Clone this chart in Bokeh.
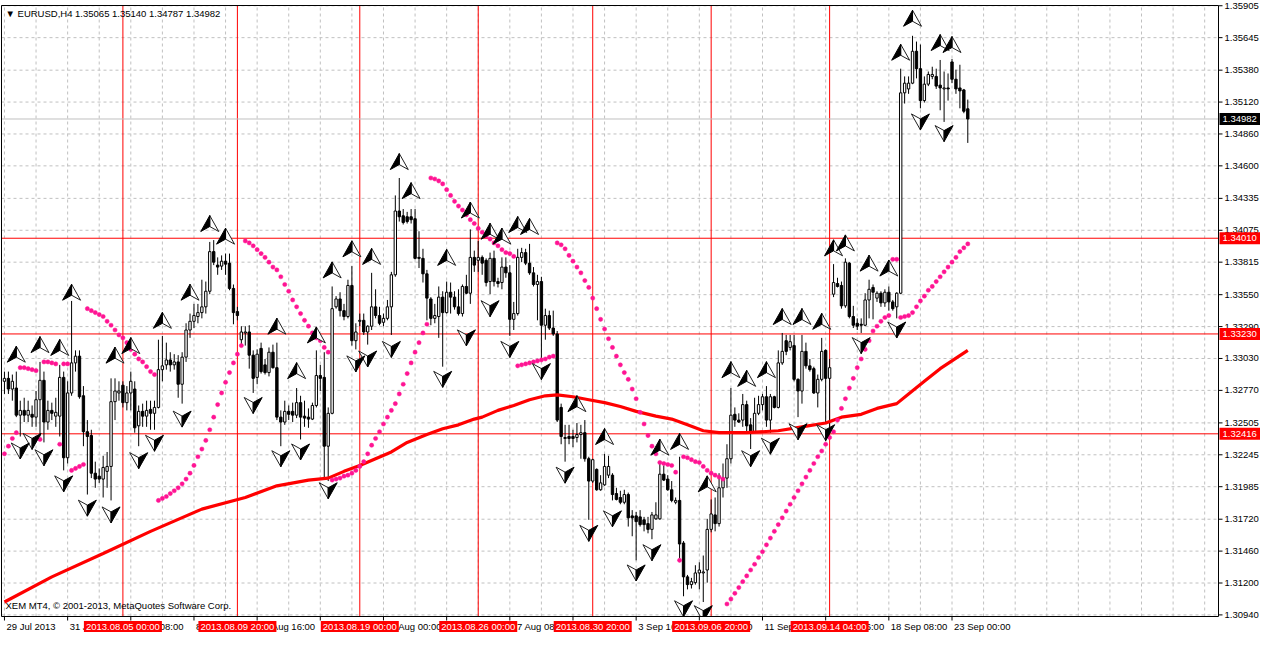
from bokeh.plotting import figure
from bokeh.models import Range1d, Label, ColumnDataSource
from bokeh.embed import file_html
from bokeh.resources import INLINE
from bokeh.core.properties import value

# ---------------- data (EURUSD H4, bar index 0 = 29 Jul 2013 00:00) ----------------
opens = [
    1.32844,1.32868,1.32781,1.32789,1.32568,1.32607,1.32568,1.32575,1.32552,1.32694,
    1.32852,1.32512,1.32607,1.32560,1.32560,1.32876,1.32221,1.32749,1.32994,1.33049,
    1.32726,1.32433,1.32402,1.32095,1.32071,1.32047,1.32110,1.32150,1.32678,1.32749,
    1.32812,1.32670,1.32749,1.32781,1.32481,1.32599,1.32560,1.32615,1.32583,1.32631,
    1.32939,1.32978,1.33018,1.32978,1.33002,1.32820,1.33041,1.33262,1.33333,1.33372,
    1.33404,1.33451,1.33578,1.33901,1.33791,1.33783,1.33823,1.33807,1.33601,1.33412,
    1.33183,1.33238,1.33246,1.33057,1.32876,1.33112,1.32978,1.32915,1.33081,1.32955,
    1.32552,1.32512,1.32599,1.32599,1.32568,1.32670,1.32560,1.32552,1.32536,1.32647,
    1.32891,1.32876,1.32315,1.32583,1.33451,1.33515,1.33420,1.33372,1.33625,1.33175,
    1.33333,1.33341,1.33246,1.33293,1.33451,1.33380,1.33325,1.33357,1.33451,1.33712,
    1.34232,1.34193,1.34185,1.34185,1.34169,1.33854,1.33846,1.33720,1.33515,1.33357,
    1.33372,1.33530,1.33404,1.33570,1.33530,1.33451,1.33396,1.33617,1.33562,1.33854,
    1.33830,1.33854,1.33830,1.33657,1.33846,1.33657,1.33649,1.33775,1.33728,1.33349,
    1.33396,1.33854,1.33893,1.33807,1.33728,1.33633,1.33657,1.33301,1.33380,1.33278,
    1.33230,1.32631,1.32378,1.32394,1.32394,1.32386,1.32410,1.32425,1.32213,1.32031,
    1.32126,1.31960,1.32000,1.32079,1.32079,1.31929,1.31897,1.31858,1.31921,1.31747,
    1.31747,1.31739,1.31715,1.31684,1.31637,1.31723,1.31723,1.32087,1.32047,1.31960,
    1.31858,1.31873,1.31526,1.31250,1.31187,1.31203,1.31282,1.31282,1.31306,1.31637,
    1.31755,1.31684,1.31976,1.32055,1.32213,1.32575,1.32528,1.32528,1.32654,1.32489,
    1.32433,1.32583,1.32654,1.32718,1.32528,1.32718,1.32631,1.32994,1.33175,1.33120,
    1.33135,1.32860,1.32765,1.33088,1.32970,1.32947,1.32749,1.32860,1.33096,1.32868,
    1.33554,1.33641,1.33625,1.33459,1.33807,1.33372,1.33317,1.33309,1.33301,1.33507,
    1.33609,1.33522,1.33562,1.33483,1.33570,1.33491,1.33451,1.33562,1.35195,1.35227,
    1.35274,1.35534,1.35392,1.35132,1.35266,1.35329,1.35329,1.35258,1.35227,1.35235,
    1.35447,1.35306,1.35235,1.35219,1.35065]
highs = [
    1.32923,1.32923,1.32899,1.32923,1.32686,1.32710,1.32686,1.32647,1.32765,1.33002,
    1.32923,1.32686,1.32670,1.32710,1.32978,1.32923,1.32844,1.33499,1.33096,1.33096,
    1.32805,1.32528,1.32449,1.32189,1.32134,1.32237,1.32268,1.32868,1.32868,1.32844,
    1.32844,1.32805,1.32923,1.32844,1.32647,1.32662,1.32686,1.32686,1.32686,1.33183,
    1.33214,1.33159,1.33081,1.33065,1.33057,1.33081,1.33317,1.33396,1.33475,1.33475,
    1.33672,1.33657,1.33980,1.33995,1.33854,1.33870,1.33885,1.33885,1.33633,1.33451,
    1.33293,1.33293,1.33301,1.33096,1.33104,1.33159,1.33026,1.33120,1.33143,1.33159,
    1.32607,1.32686,1.32647,1.32670,1.32789,1.32726,1.32686,1.32623,1.32670,1.33096,
    1.32978,1.33081,1.32631,1.33617,1.33538,1.33570,1.33475,1.33672,1.33783,1.33317,
    1.33396,1.33396,1.33301,1.33728,1.33594,1.33451,1.33396,1.33507,1.33736,1.34359,
    1.34501,1.34248,1.34225,1.34248,1.34248,1.34067,1.33924,1.33752,1.33530,1.33475,
    1.33617,1.33578,1.33657,1.33649,1.33578,1.33594,1.33633,1.33712,1.34082,1.33909,
    1.33988,1.33870,1.33846,1.33893,1.33909,1.33688,1.33854,1.33854,1.33791,1.33491,
    1.33924,1.33932,1.33924,1.33964,1.33775,1.33712,1.33696,1.33436,1.33420,1.33420,
    1.33254,1.32662,1.32489,1.32489,1.32449,1.32504,1.32489,1.32528,1.32229,1.32213,
    1.32134,1.32079,1.32252,1.32237,1.32095,1.31976,1.31952,1.31960,1.31937,1.31794,
    1.31779,1.31794,1.31739,1.31739,1.31779,1.31858,1.32189,1.32158,1.32079,1.32031,
    1.31897,1.32229,1.31542,1.31266,1.31242,1.31345,1.31369,1.31424,1.31723,1.31881,
    1.31897,1.32095,1.32174,1.32331,1.32789,1.32631,1.32583,1.32741,1.32686,1.32544,
    1.32710,1.32726,1.32741,1.32805,1.32741,1.32726,1.33096,1.33238,1.33222,1.33222,
    1.33222,1.32868,1.33222,1.33159,1.33026,1.32963,1.32899,1.33198,1.33104,1.33026,
    1.33799,1.33688,1.33657,1.33846,1.33815,1.33459,1.33357,1.33357,1.33562,1.33672,
    1.33633,1.33578,1.33578,1.33594,1.33617,1.33507,1.33570,1.35392,1.35329,1.35329,
    1.35660,1.35613,1.35589,1.35329,1.35369,1.35408,1.35392,1.35463,1.35369,1.35353,
    1.35471,1.35384,1.35424,1.35227,1.35140]
lows = [
    1.32741,1.32741,1.32686,1.32552,1.32394,1.32512,1.32512,1.32473,1.32473,1.32394,
    1.32346,1.32449,1.32528,1.32473,1.32394,1.32118,1.32174,1.32726,1.32923,1.32702,
    1.32315,1.31921,1.32055,1.31976,1.32016,1.31897,1.31976,1.31873,1.32528,1.32686,
    1.32631,1.32607,1.32607,1.32425,1.32315,1.32473,1.32473,1.32449,1.32449,1.32623,
    1.32844,1.32939,1.32923,1.32939,1.32710,1.32662,1.33002,1.33198,1.33278,1.33317,
    1.33357,1.33396,1.33554,1.33791,1.33712,1.33752,1.33712,1.33586,1.33309,1.33341,
    1.33135,1.33135,1.32947,1.32749,1.32820,1.32907,1.32899,1.32884,1.32947,1.32528,
    1.32315,1.32489,1.32528,1.32512,1.32544,1.32370,1.32473,1.32465,1.32528,1.32631,
    1.32765,1.32055,1.32031,1.32575,1.33436,1.33372,1.33341,1.33357,1.33135,1.33104,
    1.33293,1.33222,1.33143,1.33262,1.33357,1.33301,1.33293,1.33341,1.33222,1.33696,
    1.34146,1.34122,1.34130,1.34130,1.33838,1.33767,1.33649,1.33341,1.33301,1.33317,
    1.33198,1.32963,1.33396,1.33396,1.33428,1.33380,1.33372,1.33554,1.33475,1.33736,
    1.33736,1.33712,1.33617,1.33554,1.33617,1.33609,1.33594,1.33688,1.33214,1.33262,
    1.33380,1.33815,1.33791,1.33712,1.33617,1.33341,1.33018,1.33183,1.33262,1.33214,
    1.32512,1.32331,1.32189,1.32331,1.32307,1.32346,1.32213,1.32189,1.31715,1.32016,
    1.31952,1.31952,1.31992,1.32055,1.31873,1.31873,1.31842,1.31842,1.31660,1.31581,
    1.31385,1.31660,1.31621,1.31605,1.31557,1.31715,1.31715,1.32031,1.31952,1.31858,
    1.31842,1.31400,1.31092,1.31148,1.31155,1.31187,1.31148,1.31045,1.31203,1.31613,
    1.31621,1.31660,1.31897,1.31976,1.32174,1.32473,1.32504,1.32473,1.32425,1.32292,
    1.32425,1.32568,1.32607,1.32473,1.32425,1.32623,1.32623,1.32978,1.33057,1.33096,
    1.32844,1.32552,1.32662,1.32947,1.32923,1.32741,1.32631,1.32844,1.32512,1.32425,
    1.33530,1.33609,1.33436,1.33443,1.33357,1.33278,1.33262,1.33238,1.33293,1.33357,
    1.33349,1.33491,1.33451,1.33451,1.33420,1.33420,1.33357,1.33554,1.35108,1.35187,
    1.35266,1.35313,1.35069,1.35116,1.35250,1.35306,1.35227,1.35053,1.34958,1.35132,
    1.35274,1.35187,1.35069,1.35029,1.34787]
closes = [
    1.32868,1.32781,1.32844,1.32568,1.32607,1.32568,1.32607,1.32552,1.32694,1.32852,
    1.32512,1.32607,1.32583,1.32591,1.32876,1.32221,1.32749,1.32994,1.33049,1.32718,
    1.32433,1.32394,1.32095,1.32047,1.32047,1.32142,1.32150,1.32678,1.32765,1.32765,
    1.32670,1.32749,1.32844,1.32465,1.32599,1.32560,1.32607,1.32583,1.32631,1.32939,
    1.32970,1.33018,1.32978,1.33002,1.32820,1.33041,1.33262,1.33333,1.33380,1.33404,
    1.33451,1.33578,1.33901,1.33815,1.33775,1.33823,1.33799,1.33601,1.33404,1.33380,
    1.33246,1.33246,1.33057,1.32868,1.33065,1.32923,1.32915,1.33081,1.32955,1.32552,
    1.32512,1.32599,1.32575,1.32568,1.32670,1.32552,1.32544,1.32536,1.32647,1.32891,
    1.32868,1.32315,1.32583,1.33436,1.33515,1.33420,1.33372,1.33625,1.33175,1.33246,
    1.33341,1.33246,1.33293,1.33451,1.33380,1.33317,1.33357,1.33451,1.33712,1.34232,
    1.34185,1.34138,1.34146,1.34161,1.33846,1.33846,1.33720,1.33522,1.33357,1.33380,
    1.33530,1.33404,1.33570,1.33530,1.33451,1.33396,1.33617,1.33562,1.33854,1.33791,
    1.33854,1.33807,1.33649,1.33846,1.33657,1.33641,1.33775,1.33728,1.33349,1.33396,
    1.33854,1.33893,1.33807,1.33728,1.33633,1.33657,1.33301,1.33380,1.33278,1.33230,
    1.32528,1.32394,1.32386,1.32378,1.32378,1.32410,1.32425,1.32213,1.32031,1.32205,
    1.31960,1.32016,1.32150,1.32150,1.31921,1.31881,1.31858,1.31921,1.31731,1.31731,
    1.31700,1.31676,1.31676,1.31637,1.31755,1.31755,1.32087,1.32039,1.31960,1.31873,
    1.31873,1.31518,1.31250,1.31187,1.31211,1.31282,1.31306,1.31290,1.31637,1.31763,
    1.31684,1.31976,1.32055,1.32213,1.32568,1.32528,1.32512,1.32654,1.32481,1.32433,
    1.32583,1.32654,1.32718,1.32528,1.32718,1.32631,1.32994,1.33088,1.33088,1.33167,
    1.32860,1.32765,1.33088,1.32970,1.32939,1.32749,1.32860,1.33088,1.32868,1.32955,
    1.33649,1.33617,1.33459,1.33815,1.33372,1.33301,1.33293,1.33301,1.33507,1.33594,
    1.33570,1.33562,1.33483,1.33570,1.33491,1.33436,1.33562,1.35195,1.35274,1.35274,
    1.35534,1.35392,1.35132,1.35266,1.35345,1.35345,1.35250,1.35235,1.35235,1.35227,
    1.35306,1.35227,1.35211,1.35045,1.34982]

# Parabolic SAR, one value per bar
sar = [
    1.32253,1.32315,1.32378,1.32425,1.32955,1.32955,1.32947,1.32939,1.32931,1.32370,
    1.33002,1.33002,1.32994,1.32986,1.32331,1.32986,1.32986,1.32118,1.32134,1.32150,
    1.32166,1.33436,1.33420,1.33404,1.33388,1.33372,1.33333,1.33301,1.33262,1.33222,
    1.33198,1.33159,1.33104,1.33065,1.33026,1.33002,1.32963,1.32923,1.32899,1.31873,
    1.31889,1.31905,1.31929,1.31952,1.31976,1.32008,1.32047,1.32095,1.32158,1.32229,
    1.32292,1.32362,1.32449,1.32552,1.32654,1.32749,1.32836,1.32915,1.32994,1.33065,
    1.33135,1.33988,1.33972,1.33948,1.33917,1.33885,1.33854,1.33815,1.33775,1.33752,
    1.33696,1.33633,1.33578,1.33507,1.33451,1.33396,1.33341,1.33293,1.33238,1.33198,
    1.33175,1.33120,1.33081,1.32039,1.32047,1.32055,1.32071,1.32079,1.32095,1.32118,
    1.32150,1.32189,1.32253,1.32323,1.32378,1.32433,1.32496,1.32552,1.32607,1.32662,
    1.32741,1.32820,1.32907,1.32994,1.33081,1.33159,1.33238,1.33309,1.34501,1.34493,
    1.34477,1.34453,1.34406,1.34359,1.34311,1.34272,1.34240,1.34201,1.34161,1.34130,
    1.34090,1.34059,1.34027,1.34003,1.33972,1.33948,1.33917,1.33893,1.33885,1.33862,
    1.32970,1.32978,1.32986,1.32994,1.33002,1.33010,1.33018,1.33026,1.33041,1.33049,
    1.33972,1.33956,1.33924,1.33870,1.33823,1.33775,1.33728,1.33665,1.33609,1.33522,
    1.33436,1.33349,1.33270,1.33191,1.33120,1.33049,1.32978,1.32915,1.32860,1.32781,
    1.32702,1.32591,1.32496,1.32402,1.32315,1.32253,1.32182,1.32174,1.32166,1.32158,
    1.32103,1.31385,1.32229,1.32221,1.32205,1.32189,1.32182,1.32150,1.32118,1.32095,
    1.32079,1.32063,1.32047,1.31029,1.31069,1.31116,1.31163,1.31211,1.31258,1.31306,
    1.31353,1.31408,1.31455,1.31511,1.31566,1.31621,1.31676,1.31731,1.31786,1.31842,
    1.31897,1.31952,1.32008,1.32063,1.32118,1.32174,1.32229,1.32276,1.32331,1.32386,
    1.32433,1.32528,1.32623,1.32702,1.32789,1.32868,1.32955,1.33026,1.33104,1.33175,
    1.33254,1.33293,1.33333,1.33364,1.33380,1.33838,1.33838,1.33364,1.33372,1.33380,
    1.33404,1.33451,1.33499,1.33538,1.33586,1.33617,1.33657,1.33696,1.33736,1.33775,
    1.33815,1.33854,1.33901,1.33932,1.33964]

# moving average, read at sample bars
ma_bar = [0,12,25,37,50,61,69,77,82,86,90,94,98,102,107,111,115,119,121,125,
          129,133,137,140,144,148,152,156,160,165,169,173,177,181,188,196,202,208,212,217,
          221,226,229,233,237,244]
ma_val = [1.31045,1.31250,1.31440,1.31621,1.31802,1.31897,1.31992,1.32039,1.32055,1.32110,
          1.32158,1.32213,1.32268,1.32346,1.32410,1.32457,1.32489,1.32536,1.32552,1.32607,
          1.32647,1.32694,1.32726,1.32733,1.32718,1.32694,1.32670,1.32639,1.32599,1.32560,
          1.32536,1.32489,1.32441,1.32425,1.32425,1.32441,1.32473,1.32504,1.32552,1.32575,
          1.32623,1.32662,1.32741,1.32844,1.32947,1.33096]

# fractal arrows
up_bar = [3,9,14,17,28,32,40,47,52,56,69,74,79,83,88,93,100,103,112,118,
          123,126,130,133,145,152,166,171,178,184,188,193,197,202,207,210,213,219,224,227,
          230,237,240]
up_price = [1.33065,1.33143,1.33120,1.33570,1.33057,1.33135,1.33341,1.33570,1.34130,1.34027,
            1.33293,1.32931,1.33222,1.33752,1.33924,1.33862,1.34635,1.34398,1.33854,1.34240,
            1.34067,1.34027,1.34122,1.34106,1.32662,1.32394,1.32307,1.32354,1.32008,1.32939,
            1.32868,1.32939,1.33372,1.33372,1.33333,1.33932,1.33972,1.33807,1.33767,1.35526,
            1.35803,1.35605,1.35589]
down_bar = [4,7,10,15,21,27,34,38,45,63,70,75,82,89,92,98,111,117,123,128,
            136,142,148,154,160,164,172,177,189,194,201,208,217,226,232,238]
down_price = [1.32276,1.32354,1.32221,1.32008,1.31810,1.31755,1.32197,1.32339,1.32536,1.32647,
              1.32213,1.32268,1.31952,1.32986,1.33026,1.33104,1.32860,1.33198,1.33436,1.33104,
              1.32923,1.32079,1.31605,1.31723,1.31282,1.31447,1.30990,1.30950,1.32213,1.32315,
              1.32433,1.32425,1.33135,1.33262,1.34958,1.34863]

# price scale and time scale
ytick_vals = [1.35905,1.35645,1.35380,1.35120,1.34860,1.34600,1.34335,1.34075,1.33815,1.33550,
              1.33290,1.33030,1.32770,1.32505,1.32245,1.31985,1.31720,1.31460,1.31200,1.30940]
tick_bars = [0,16,32,48,64,80,96,112,128,144,160,176,192,208,224,240]
tick_text = ["29 Jul 2013","31 Jul 16:00","5 Aug 08:00","8 Aug 00:00","12 Aug 16:00",
             "15 Aug 08:00","20 Aug 00:00","22 Aug 16:00","27 Aug 08:00","30 Aug 00:00",
             "3 Sep 16:00","6 Sep 08:00","11 Sep 00:00","13 Sep 16:00","18 Sep 08:00",
             "23 Sep 00:00"]

# chart objects
vline_bars = [30,59,90,120,149,179,209]
vline_text = ["2013.08.05 00:00","2013.08.09 20:00","2013.08.19 00:00","2013.08.26 00:00",
              "2013.08.30 20:00","2013.09.06 20:00","2013.09.14 04:00"]
hline_prices = [1.34010,1.33230,1.32416]
bid_price = 1.34982
header = "\u25BC EURUSD,H4  1.35065 1.35140 1.34787 1.34982"
copyright_text = "XEM MT4, \u00A9 2001-2013, MetaQuotes Software Corp."

# ---------------- layout ----------------
N = len(opens)
bars = list(range(N))
CX0, CX1 = -0.75, 307.5          # chart area in bars
CY0, CY1 = 1.30927, 1.35907      # chart area in price
LEFT, CW, RIGHT = 1, 1217, 42    # pixels
TOP, CH, BOTTOM = 5, 611, 20
W, H = LEFT + CW + RIGHT, TOP + CH + BOTTOM
dx = (CX1 - CX0) / CW
dy = (CY1 - CY0) / CH
FONT = "Liberation Sans"
FS = "9.5px"
TXT = dict(text_font=value(FONT), text_font_size=value(FS), text_baseline="middle")

p = figure(frame_width=W, frame_height=H,
           x_range=Range1d(CX0 - LEFT * dx, CX1 + RIGHT * dx),
           y_range=Range1d(CY0 - BOTTOM * dy, CY1 + TOP * dy),
           x_axis_location=None, y_axis_location=None,
           output_backend="svg", toolbar_location=None,
           min_border=0, min_border_left=0, min_border_right=0,
           min_border_top=0, min_border_bottom=0,
           background_fill_color="white", border_fill_color="white",
           outline_line_color=None)
p.grid.visible = False

# grid
gx = list(range(0, 308, 8))
p.segment(x0=gx, y0=[CY0] * len(gx), x1=gx, y1=[CY1] * len(gx),
          line_color="#C0C0C0", line_dash="3 3", line_width=1)
p.segment(x0=[CX0] * len(ytick_vals), y0=ytick_vals, x1=[CX1] * len(ytick_vals), y1=ytick_vals,
          line_color="#C0C0C0", line_dash="3 3", line_width=1)

# objects: vertical / horizontal lines, bid line
p.segment(x0=vline_bars, y0=[CY0] * len(vline_bars), x1=vline_bars, y1=[CY1] * len(vline_bars),
          line_color="#FF0000", line_width=1)
p.segment(x0=[CX0] * 3, y0=hline_prices, x1=[CX1] * 3, y1=hline_prices,
          line_color="#FF0000", line_width=1)
p.segment(x0=[CX0], y0=[bid_price], x1=[CX1], y1=[bid_price], line_color="#C0C0C0", line_width=1)

# candles
p.segment(x0=bars, y0=lows, x1=bars, y1=highs, line_color="black", line_width=1)
inc = [i for i in bars if closes[i] >= opens[i]]
dec = [i for i in bars if closes[i] < opens[i]]
p.vbar(x=inc, top=[closes[i] for i in inc], bottom=[opens[i] for i in inc], width=0.6,
       fill_color="white", line_color="black", line_width=1)
p.vbar(x=dec, top=[opens[i] for i in dec], bottom=[closes[i] for i in dec], width=0.6,
       fill_color="black", line_color="black", line_width=1)

# moving average
p.line(ma_bar, ma_val, line_color="#FF0000", line_width=3.2)

# parabolic SAR
p.scatter(bars, sar, marker="circle", size=4.2, fill_color="#FF1493",
          line_color="#FF1493", line_width=0.5)

# fractal arrows (shape given in screen pixels, converted through the scales)
def arrow(bx, py, up):
    if up:
        tip, left, notch, right = (0, -8), (-9, 8), (0, 3), (9, 8)
        dark, light = [tip, left, notch], [tip, notch, right]
    else:
        tip, left, notch, right = (0, 8), (-9, -8), (0, -3), (9, -8)
        light, dark = [tip, left, notch], [tip, notch, right]
    conv = lambda pts: ([bx + u * dx for u, v in pts], [py - v * dy for u, v in pts])
    return conv(dark), conv(light)

dxs, dys, lxs, lys = [], [], [], []
for b, pr in zip(up_bar, up_price):
    (a, c), (e, f) = arrow(b, pr, True)
    dxs.append(a); dys.append(c); lxs.append(e); lys.append(f)
for b, pr in zip(down_bar, down_price):
    (a, c), (e, f) = arrow(b, pr, False)
    dxs.append(a); dys.append(c); lxs.append(e); lys.append(f)
p.patches(lxs, lys, fill_color="white", line_color="#202020", line_width=1)
p.patches(dxs, dys, fill_color="black", line_color="black", line_width=1)

# blank out the label strips and draw the chart border
p.quad(left=[CX0 - LEFT * dx], right=[CX1 + RIGHT * dx], bottom=[CY0 - BOTTOM * dy], top=[CY0],
       fill_color="white", line_color=None)
p.quad(left=[CX0], right=[CX1], bottom=[CY0], top=[CY1], fill_color=None,
       line_color="black", line_width=1)

# price scale: ticks and labels
p.segment(x0=[CX1] * len(ytick_vals), y0=ytick_vals, x1=[CX1 + 4 * dx] * len(ytick_vals),
          y1=ytick_vals, line_color="black", line_width=1)
ysrc = ColumnDataSource(dict(x=[CX1 + 6 * dx] * len(ytick_vals), y=ytick_vals,
                             t=["%.5f" % v for v in ytick_vals]))
p.text(x="x", y="y", text="t", source=ysrc, text_align="left", text_color="black", **TXT)

# time scale: ticks and labels
p.segment(x0=tick_bars, y0=[CY0] * len(tick_bars), x1=tick_bars,
          y1=[CY0 - 4 * dy] * len(tick_bars), line_color="black", line_width=1)
ylab = CY0 - 10 * dy
xsrc = ColumnDataSource(dict(x=[b + 2 * dx for b in tick_bars], y=[ylab] * len(tick_bars),
                             t=tick_text))
p.text(x="x", y="y", text="t", source=xsrc, text_align="left", text_color="black", **TXT)

# object labels on the time scale (red boxes)
nv = len(vline_bars)
p.quad(left=[b - 39 * dx for b in vline_bars], right=[b + 39 * dx for b in vline_bars],
       bottom=[ylab - 5.5 * dy] * nv, top=[ylab + 5.5 * dy] * nv,
       fill_color="#FF0000", line_color=None)
vsrc = ColumnDataSource(dict(x=vline_bars, y=[ylab] * nv, t=vline_text))
p.text(x="x", y="y", text="t", source=vsrc, text_align="center", text_color="white", **TXT)

# object labels on the price scale
box_p = hline_prices + [bid_price]
box_c = ["#FF0000"] * len(hline_prices) + ["black"]
nb = len(box_p)
p.quad(left=[CX1 + 1 * dx] * nb, right=[CX1 + RIGHT * dx] * nb,
       bottom=[v - 6 * dy for v in box_p], top=[v + 6 * dy for v in box_p],
       fill_color=box_c, line_color=None)
bsrc = ColumnDataSource(dict(x=[CX1 + 4 * dx] * nb, y=box_p, t=["%.5f" % v for v in box_p]))
p.text(x="x", y="y", text="t", source=bsrc, text_align="left", text_color="white", **TXT)

# header and copyright
p.add_layout(Label(x=CX0 + 4 * dx, y=CY1 - 8 * dy, text=header, text_align="left",
                   text_baseline="middle", text_font=FONT, text_font_size=FS, text_color="black"))
p.add_layout(Label(x=CX0 + 4 * dx, y=CY0 + 11 * dy, text=copyright_text, text_align="left",
                   text_baseline="middle", text_font=FONT, text_font_size=FS, text_color="black"))

open("out.html", "w").write(file_html(p, INLINE))
